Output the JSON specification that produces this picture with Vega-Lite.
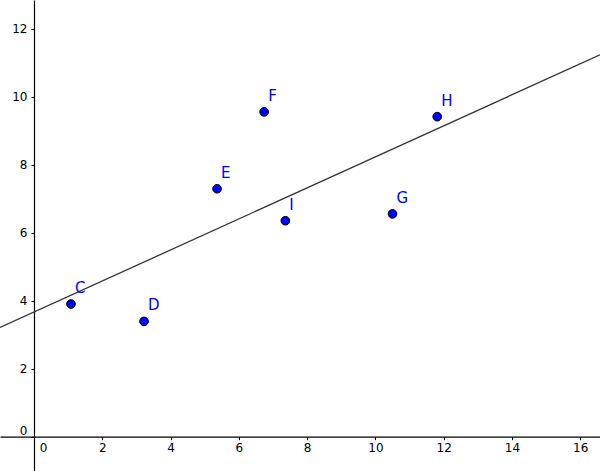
{
  "$schema": "https://vega.github.io/schema/vega-lite/v6.json",
  "width": 600,
  "height": 471,
  "autosize": {"type": "none"},
  "padding": 0,
  "background": "white",
  "config": {"view": {"stroke": null}},
  "datasets": {
    "pts": [
      {"name": "C", "x": 1.08, "y": 3.9},
      {"name": "D", "x": 3.22, "y": 3.39},
      {"name": "E", "x": 5.36, "y": 7.29},
      {"name": "F", "x": 6.74, "y": 9.55},
      {"name": "G", "x": 10.5, "y": 6.55},
      {"name": "H", "x": 11.81, "y": 9.41},
      {"name": "I", "x": 7.36, "y": 6.35}
    ],
    "fit": [
      {"x": -1.0, "y": 3.21},
      {"x": 16.58, "y": 11.23}
    ]
  },
  "layer": [
    {
      "data": {"name": "fit"},
      "mark": {"type": "line", "color": "#333333", "strokeWidth": 1.3, "clip": true},
      "encoding": {
        "x": {
          "field": "x", "type": "quantitative",
          "scale": {"domain": [-1.0, 16.58], "nice": false, "zero": false},
          "axis": {
            "title": null, "grid": false, "orient": "bottom", "offset": -34.3,
            "values": [0, 2, 4, 6, 8, 10, 12, 14, 16],
            "domainColor": "black", "domainWidth": 1.2,
            "tickColor": "black", "tickSize": 3,
            "labelColor": "black", "labelFontSize": 12, "labelFont": "DejaVu Sans",
            "labelPadding": 3, "labelFlush": false,
            "labelOffset": {"expr": "datum.value == 0 ? 9 : 0"}
          }
        },
        "y": {
          "field": "y", "type": "quantitative",
          "scale": {"domain": [-1.01, 12.84], "nice": false, "zero": false},
          "axis": {
            "title": null, "grid": false, "orient": "left", "offset": -34,
            "values": [0, 2, 4, 6, 8, 10, 12],
            "domainColor": "black", "domainWidth": 1.2,
            "tickColor": "black", "tickSize": 3,
            "labelColor": "black", "labelFontSize": 12, "labelFont": "DejaVu Sans",
            "labelPadding": 4, "labelFlush": false,
            "labelOffset": {"expr": "datum.value == 0 ? -6 : 0"}
          }
        }
      }
    },
    {
      "data": {"name": "pts"},
      "mark": {"type": "circle", "size": 75, "color": "#0000ff", "opacity": 1, "stroke": "black", "strokeWidth": 1},
      "encoding": {
        "x": {"field": "x", "type": "quantitative"},
        "y": {"field": "y", "type": "quantitative"}
      }
    },
    {
      "data": {"name": "pts"},
      "mark": {"type": "text", "align": "left", "baseline": "middle", "dx": 4, "dy": -16, "fontSize": 15, "font": "DejaVu Sans", "color": "#0000ff"},
      "encoding": {
        "x": {"field": "x", "type": "quantitative"},
        "y": {"field": "y", "type": "quantitative"},
        "text": {"field": "name"}
      }
    }
  ]
}
